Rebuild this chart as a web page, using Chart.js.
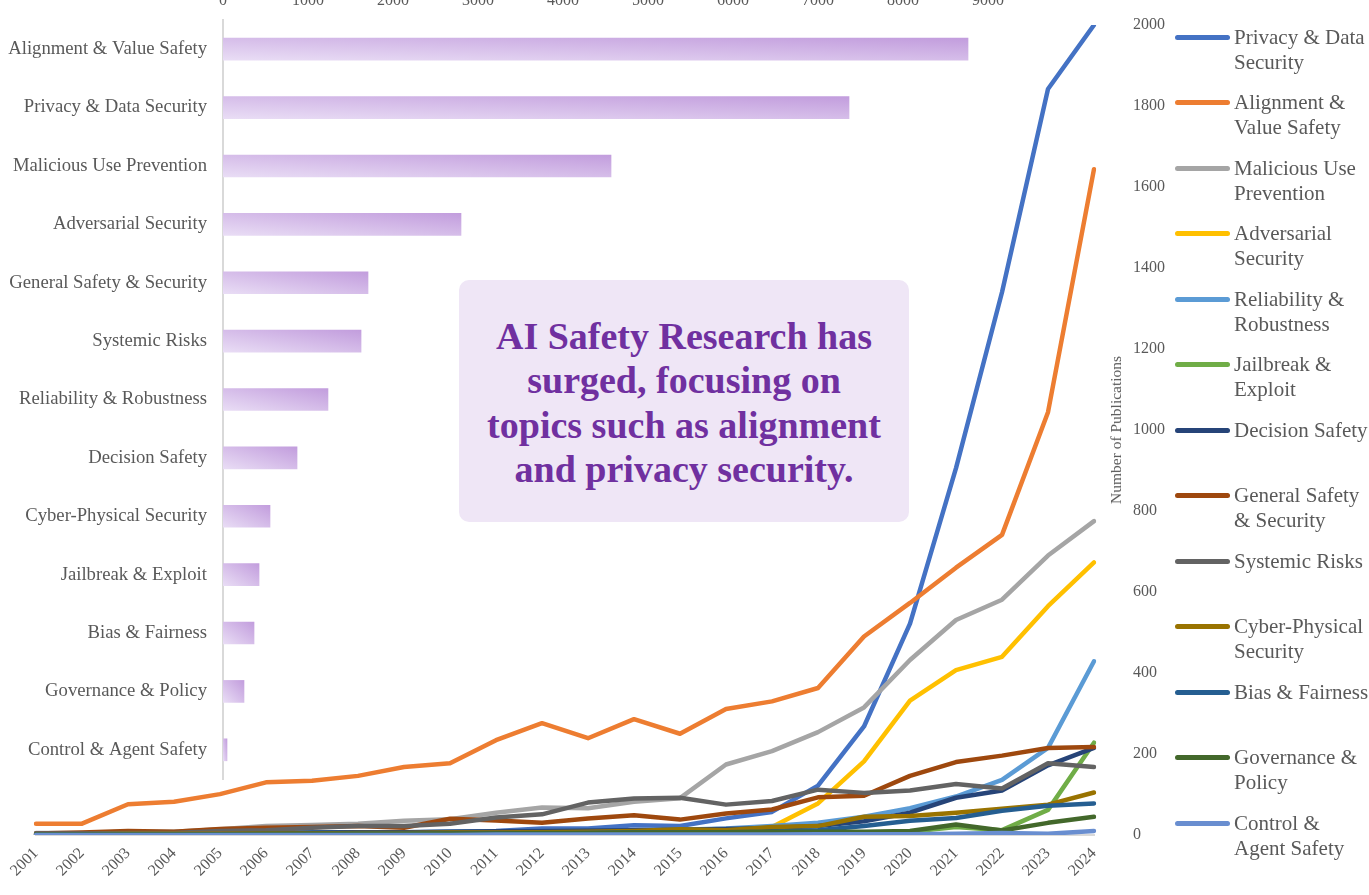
<!DOCTYPE html>
<html>
<head>
<meta charset="utf-8">
<script src="https://cdn.jsdelivr.net/npm/chart.js@4.4.0/dist/chart.umd.min.js"></script>
<style>
  body { margin: 0; background: #fff; }
  #wrap { position: relative; width: 1369px; height: 895px; overflow: hidden; font-family: "Liberation Serif", "Times New Roman", serif; }
  #lineChart { position: absolute; left: 0; top: 0; }
  #barChart { position: absolute; left: 0; top: -10px; }
  #note { position: absolute; left: 459px; top: 280px; width: 450px; height: 242px; background: #efe6f6; border-radius: 10px;
          display: flex; align-items: center; justify-content: center; text-align: center;
          color: #7030a0; font-weight: bold; font-size: 38px; line-height: 44.5px; padding-top: 3px; box-sizing: border-box; }
  #yTitle { position: absolute; left: 1116px; top: 430px; transform: translate(-50%, -50%) rotate(-90deg);
            font-size: 15.5px; color: #595959; white-space: nowrap; }
  .lg-line { position: absolute; left: 1175px; width: 55px; height: 5px; border-radius: 3px; }
  .lg-text { position: absolute; left: 1234px; width: 140px; font-size: 21px; line-height: 25px; color: #595959; }
</style>
</head>
<body>
<div id="wrap">
  <canvas id="lineChart" width="1369" height="895"></canvas>
  <canvas id="barChart" width="1100" height="800"></canvas>
  <div id="note">AI Safety Research has<br>surged, focusing on<br>topics such as alignment<br>and privacy security.</div>
  <div id="yTitle">Number of Publications</div>
  <div id="legend"></div>
</div>
<script>
// years on the bottom axis
const years = ['2001', '2002', '2003', '2004', '2005', '2006', '2007', '2008', '2009', '2010', '2011', '2012',
  '2013', '2014', '2015', '2016', '2017', '2018', '2019', '2020', '2021', '2022', '2023', '2024'];

// publications per year, one array per topic
const privacy     = [2, 2, 3, 3, 4, 4, 5, 6, 6, 8, 10, 16, 16, 24, 22, 41, 57, 122, 268, 522, 906, 1340, 1842, 2000];
const alignment   = [28, 28, 76, 82, 101, 130, 134, 146, 168, 177, 234, 276, 239, 286, 250, 311, 330, 363, 490, 573, 660, 741, 1044, 1644];
const malicious   = [5, 5, 8, 8, 14, 22, 25, 28, 35, 39, 55, 68, 66, 82, 91, 174, 207, 254, 315, 432, 531, 581, 690, 775];
const adversarial = [2, 2, 2, 2, 2, 2, 3, 3, 3, 3, 3, 3, 3, 3, 3, 4, 20, 78, 182, 332, 407, 440, 565, 673];
const reliability = [3, 3, 4, 4, 5, 5, 6, 6, 7, 8, 9, 10, 11, 12, 13, 16, 22, 30, 45, 66, 95, 136, 215, 429];
const jailbreak   = [0, 0, 0, 0, 0, 0, 0, 0, 0, 1, 1, 1, 1, 1, 2, 2, 3, 4, 6, 8, 20, 12, 62, 228];
const decision    = [3, 3, 4, 4, 5, 5, 6, 7, 7, 8, 9, 10, 11, 12, 13, 15, 17, 22, 34, 55, 92, 110, 172, 215];
const general     = [4, 6, 10, 8, 15, 18, 20, 22, 18, 40, 36, 30, 41, 49, 38, 53, 63, 93, 97, 146, 180, 196, 215, 217];
const systemic    = [4, 4, 5, 5, 10, 12, 18, 22, 22, 28, 43, 51, 80, 90, 92, 75, 84, 112, 104, 110, 126, 115, 177, 168];
const cyber       = [2, 2, 3, 3, 3, 4, 4, 5, 5, 6, 6, 7, 8, 10, 14, 12, 20, 22, 45, 47, 55, 65, 75, 105];
const bias        = [1, 1, 1, 2, 2, 2, 2, 3, 3, 3, 4, 4, 5, 6, 6, 7, 8, 12, 22, 35, 42, 60, 72, 78];
const governance  = [1, 1, 2, 2, 2, 3, 3, 3, 3, 4, 4, 5, 5, 6, 6, 7, 8, 8, 8, 10, 26, 11, 30, 45];
const control     = [0, 0, 0, 0, 0, 0, 0, 0, 0, 0, 1, 1, 1, 1, 1, 1, 1, 2, 2, 2, 3, 5, 3, 10];

const seriesNames = ['Privacy & Data Security', 'Alignment & Value Safety', 'Malicious Use Prevention',
  'Adversarial Security', 'Reliability & Robustness', 'Jailbreak & Exploit', 'Decision Safety',
  'General Safety & Security', 'Systemic Risks', 'Cyber-Physical Security', 'Bias & Fairness',
  'Governance & Policy', 'Control & Agent Safety'];
const seriesData = [privacy, alignment, malicious, adversarial, reliability, jailbreak, decision,
  general, systemic, cyber, bias, governance, control];
const seriesColors = ['#4472C4', '#ED7D31', '#A5A5A5', '#FFC000', '#5B9BD5', '#70AD47', '#264478',
  '#9E480E', '#636363', '#997300', '#255E91', '#43682B', '#698ED0'];

// total publications per topic (top bar chart)
const barCategories = ['Alignment & Value Safety', 'Privacy & Data Security', 'Malicious Use Prevention',
  'Adversarial Security', 'General Safety & Security', 'Systemic Risks', 'Reliability & Robustness',
  'Decision Safety', 'Cyber-Physical Security', 'Jailbreak & Exploit', 'Bias & Fairness',
  'Governance & Policy', 'Control & Agent Safety'];
const barTotals = [8765, 7365, 4565, 2800, 1706, 1624, 1235, 871, 553, 424, 365, 247, 47];

Chart.defaults.font.family = '"Liberation Serif", "Times New Roman", serif';
Chart.defaults.color = '#595959';

// ticks.padding also pads the plot area in Chart.js, so reset it after fit
const noPad = (s) => { s.paddingTop = 0; s.paddingBottom = 0; s.paddingLeft = 0; s.paddingRight = 0; };

const lineChart = new Chart(document.getElementById('lineChart'), {
  type: 'line',
  data: {
    labels: years,
    datasets: seriesNames.map((name, i) => ({
      label: name,
      data: seriesData[i],
      borderColor: seriesColors[i],
      backgroundColor: seriesColors[i],
      borderWidth: 4.5,
      pointRadius: 0,
      tension: 0,
      borderCapStyle: 'round',
      borderJoinStyle: 'round',
      order: seriesNames.length - i,
    })),
  },
  options: {
    responsive: false,
    animation: false,
    layout: { padding: { left: 36, right: 200, top: 25, bottom: 0 } },
    plugins: { legend: { display: false }, tooltip: { enabled: false } },
    scales: {
      x: {
        grid: { display: false, drawTicks: false },
        border: { display: true, color: '#d9d9d9', width: 2 },
        ticks: { font: { size: 16 }, color: '#595959', minRotation: 45, maxRotation: 45, autoSkip: false, padding: 9 },
        afterFit: (s) => { s.height = 60; noPad(s); },
      },
      y: {
        position: 'right',
        min: 0,
        max: 2000,
        grid: { display: false, drawTicks: false },
        border: { display: false },
        ticks: { stepSize: 200, font: { size: 16 }, color: '#595959', padding: 39, callback: (v) => String(v) },
        afterFit: (s) => { s.width = 75; noPad(s); },
      },
    },
  },
});

// per-bar diagonal gradient, light bottom-left to darker top-right
function barFill(c) {
  const chart = c.chart;
  if (!chart.chartArea || c.type !== 'data') return '#d5bce9';
  const xs = chart.scales.x;
  const ys = chart.scales.y;
  const x0 = xs.getPixelForValue(0);
  const w = Math.max(xs.getPixelForValue(c.raw) - x0, 1);
  const h = 22;
  const yb = ys.getPixelForValue(c.dataIndex) + h / 2;
  const k = 2 / (1 / (w * w) + 1 / (h * h));
  const g = chart.ctx.createLinearGradient(x0, yb, x0 + k / w, yb - k / h);
  g.addColorStop(0, '#e9ddf5');
  g.addColorStop(1, '#c29ddd');
  return g;
}

new Chart(document.getElementById('barChart'), {
  type: 'bar',
  data: {
    labels: barCategories,
    datasets: [{ data: barTotals, backgroundColor: barFill, borderWidth: 0, barThickness: 22 }],
  },
  options: {
    indexAxis: 'y',
    responsive: false,
    animation: false,
    layout: { padding: { left: 0, right: 27, top: 0, bottom: 11 } },
    plugins: { legend: { display: false }, tooltip: { enabled: false } },
    scales: {
      x: {
        position: 'top',
        min: 0,
        max: 10000,
        grid: { display: false, drawTicks: false },
        border: { display: false },
        ticks: { stepSize: 1000, font: { size: 16 }, color: '#595959', padding: 10,
          callback: (v) => (v < 10000 ? String(v) : '') },
        afterFit: (s) => { s.height = 30; noPad(s); },
      },
      y: {
        grid: { display: false, drawTicks: false },
        border: { display: true, color: '#d9d9d9', width: 2 },
        ticks: { font: { size: 18.7 }, color: '#595959', padding: 16 },
        afterFit: (s) => { s.width = 223; noPad(s); },
      },
    },
  },
});

// legend on the right, built from the line datasets
const legend = document.getElementById('legend');
lineChart.data.datasets.forEach((ds, i) => {
  const cy = 37 + i * 65.5;
  const line = document.createElement('div');
  line.className = 'lg-line';
  line.style.top = (cy - 2.5) + 'px';
  line.style.background = ds.borderColor;
  const text = document.createElement('div');
  text.className = 'lg-text';
  text.style.top = (cy - 12.5) + 'px';
  text.textContent = ds.label;
  legend.appendChild(line);
  legend.appendChild(text);
});
</script>
</body>
</html>
